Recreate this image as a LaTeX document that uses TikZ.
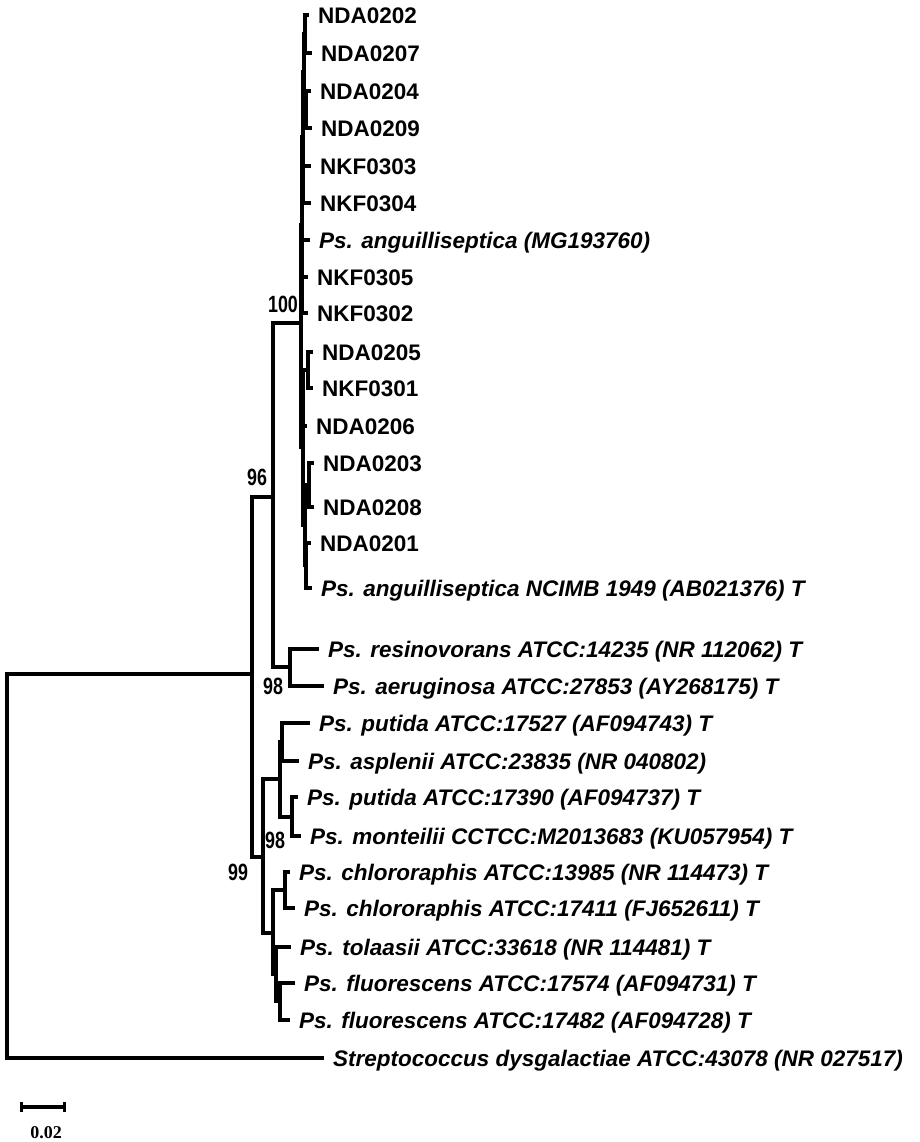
\documentclass[tikz,border=0pt]{standalone}
\usepackage{fontspec}
\setmainfont{Liberation Sans}
\newfontfamily\narrowsans[FakeStretch=0.76]{Liberation Sans}
\newfontfamily\scaleserif{Liberation Serif}
\usetikzlibrary{arrows.meta}

\begin{document}
\begin{tikzpicture}[
  x=1pt, y=-1pt,
  br/.style={line width=3.1pt, line cap=rect},
  leaf/.style={anchor=west, inner xsep=11pt, inner ysep=0pt,
               text height=21.1pt, text depth=5pt,
               font=\fontsize{22.5}{27}\selectfont\bfseries},
  sp/.style={leaf, font=\fontsize{22.5}{27}\selectfont\bfseries\itshape},
  bs/.style={inner sep=0pt, font=\narrowsans\fontsize{23.5}{27}\selectfont\bfseries},
  scalebar/.style={line width=3.1pt, {Bar[width=10pt]}-{Bar[width=10pt]}}
]
\useasboundingbox (0,0) rectangle (919,1142);

% Internal nodes of the tree.
\coordinate (root) at (7,674);
\coordinate (big)  at (252,674);
\coordinate (c96)  at (273,497);
\coordinate (c100) at (301,323);
\coordinate (ga)   at (302,225);
\coordinate (gc)   at (303,137);
\coordinate (a3)   at (304,72);
\coordinate (a1)   at (305,34);
\coordinate (a2)   at (306,110);
\coordinate (gb)   at (303,447);
\coordinate (b1)   at (308,370);
\coordinate (b4)   at (305,525);
\coordinate (b2)   at (309,485);
\coordinate (b3)   at (306,565);
\coordinate (c98a) at (290,667);
\coordinate (c99)  at (263,857);
\coordinate (p1)   at (280,779);
\coordinate (p2)   at (282,742);
\coordinate (p3)   at (292,817);
\coordinate (na)   at (273,933);
\coordinate (chl)  at (285,890);
\coordinate (nb)   at (276,974);
\coordinate (nc)   at (280,1001);

% Isolates and the anguilliseptica references.
\node[leaf] (nda0202) at (307,15)  {NDA0202};
\node[leaf] (nda0207) at (310,53)  {NDA0207};
\node[leaf] (nda0204) at (309,91)  {NDA0204};
\node[leaf] (nda0209) at (310,128) {NDA0209};
\node[leaf] (nkf0303) at (309,166) {NKF0303};
\node[leaf] (nkf0304) at (309,203) {NKF0304};
\node[sp]   (angmg)   at (308,240) {Ps. anguilliseptica (MG193760)};
\node[leaf] (nkf0305) at (306,277) {NKF0305};
\node[leaf] (nkf0302) at (306,313) {NKF0302};
\node[leaf] (nda0205) at (311,352) {NDA0205};
\node[leaf] (nkf0301) at (311,388) {NKF0301};
\node[leaf] (nda0206) at (305,426) {NDA0206};
\node[leaf] (nda0203) at (312,463) {NDA0203};
\node[leaf] (nda0208) at (312,507) {NDA0208};
\node[leaf] (nda0201) at (309,543) {NDA0201};
\node[sp]   (angnc)   at (310,588) {Ps. anguilliseptica NCIMB 1949 (AB021376) T};

% Other Pseudomonas type strains and the outgroup.
\node[sp] (resin) at (317,649)  {Ps. resinovorans ATCC:14235 (NR 112062) T};
\node[sp] (aerug) at (322,686)  {Ps. aeruginosa ATCC:27853 (AY268175) T};
\node[sp] (put27) at (308,723)  {Ps. putida ATCC:17527 (AF094743) T};
\node[sp] (aspl)  at (297,761)  {Ps. asplenii ATCC:23835 (NR 040802)};
\node[sp] (put90) at (296,797)  {Ps. putida ATCC:17390 (AF094737) T};
\node[sp] (mont)  at (299,836)  {Ps. monteilii CCTCC:M2013683 (KU057954) T};
\node[sp] (chl85) at (288,872)  {Ps. chlororaphis ATCC:13985 (NR 114473) T};
\node[sp] (chl11) at (293,908)  {Ps. chlororaphis ATCC:17411 (FJ652611) T};
\node[sp] (tola)  at (289,947)  {Ps. tolaasii ATCC:33618 (NR 114481) T};
\node[sp] (flu74) at (293,983)  {Ps. fluorescens ATCC:17574 (AF094731) T};
\node[sp] (flu82) at (288,1020) {Ps. fluorescens ATCC:17482 (AF094728) T};
\node[sp] (strep) at (322,1058) {Streptococcus dysgalactiae ATCC:43078 (NR 027517)};

% Branches, one path per internal node.
\draw[br] (root) |- (big) (root) |- (strep.west);
\draw[br] (big) |- (c96) (big) |- (c99);
\draw[br] (c96) |- (c100) (c96) |- (c98a);
\draw[br] (c100) |- (ga) (c100) |- (gb);
\draw[br] (ga) |- (gc) (ga) |- (angmg.west) (ga) |- (nkf0305.west) (ga) |- (nkf0302.west);
\draw[br] (gc) |- (a3) (gc) |- (nkf0303.west) (gc) |- (nkf0304.west);
\draw[br] (a3) |- (a1) (a3) |- (a2);
\draw[br] (a1) |- (nda0202.west) (a1) |- (nda0207.west);
\draw[br] (a2) |- (nda0204.west) (a2) |- (nda0209.west);
\draw[br] (gb) |- (b1) (gb) |- (nda0206.west) (gb) |- (b4);
\draw[br] (b1) |- (nda0205.west) (b1) |- (nkf0301.west);
\draw[br] (b4) |- (b2) (b4) |- (b3);
\draw[br] (b2) |- (nda0203.west) (b2) |- (nda0208.west);
\draw[br] (b3) |- (nda0201.west) (b3) |- (angnc.west);
\draw[br] (c98a) |- (resin.west) (c98a) |- (aerug.west);
\draw[br] (c99) |- (p1) (c99) |- (na);
\draw[br] (p1) |- (p2) (p1) |- (p3);
\draw[br] (p2) |- (put27.west) (p2) |- (aspl.west);
\draw[br] (p3) |- (put90.west) (p3) |- (mont.west);
\draw[br] (na) |- (chl) (na) |- (nb);
\draw[br] (chl) |- (chl85.west) (chl) |- (chl11.west);
\draw[br] (nb) |- (tola.west) (nb) |- (nc);
\draw[br] (nc) |- (flu74.west) (nc) |- (flu82.west);

% Bootstrap values.
\node[bs] (bs100) at (283,304) {100};
\node[bs] (bs96)  at (257,477) {96};
\node[bs] (bs98a) at (273,686) {98};
\node[bs] (bs98b) at (275,840) {98};
\node[bs] (bs99)  at (238,872) {99};

% Scale bar.
\coordinate (sbl) at (20,1107);
\coordinate (sbr) at (66,1107);
\draw[scalebar] (sbl) -- (sbr);
\node[inner sep=0pt, font=\scaleserif\bfseries\fontsize{18}{20}\selectfont] (sblab) at (46,1133) {0.02};
\end{tikzpicture}
\end{document}
